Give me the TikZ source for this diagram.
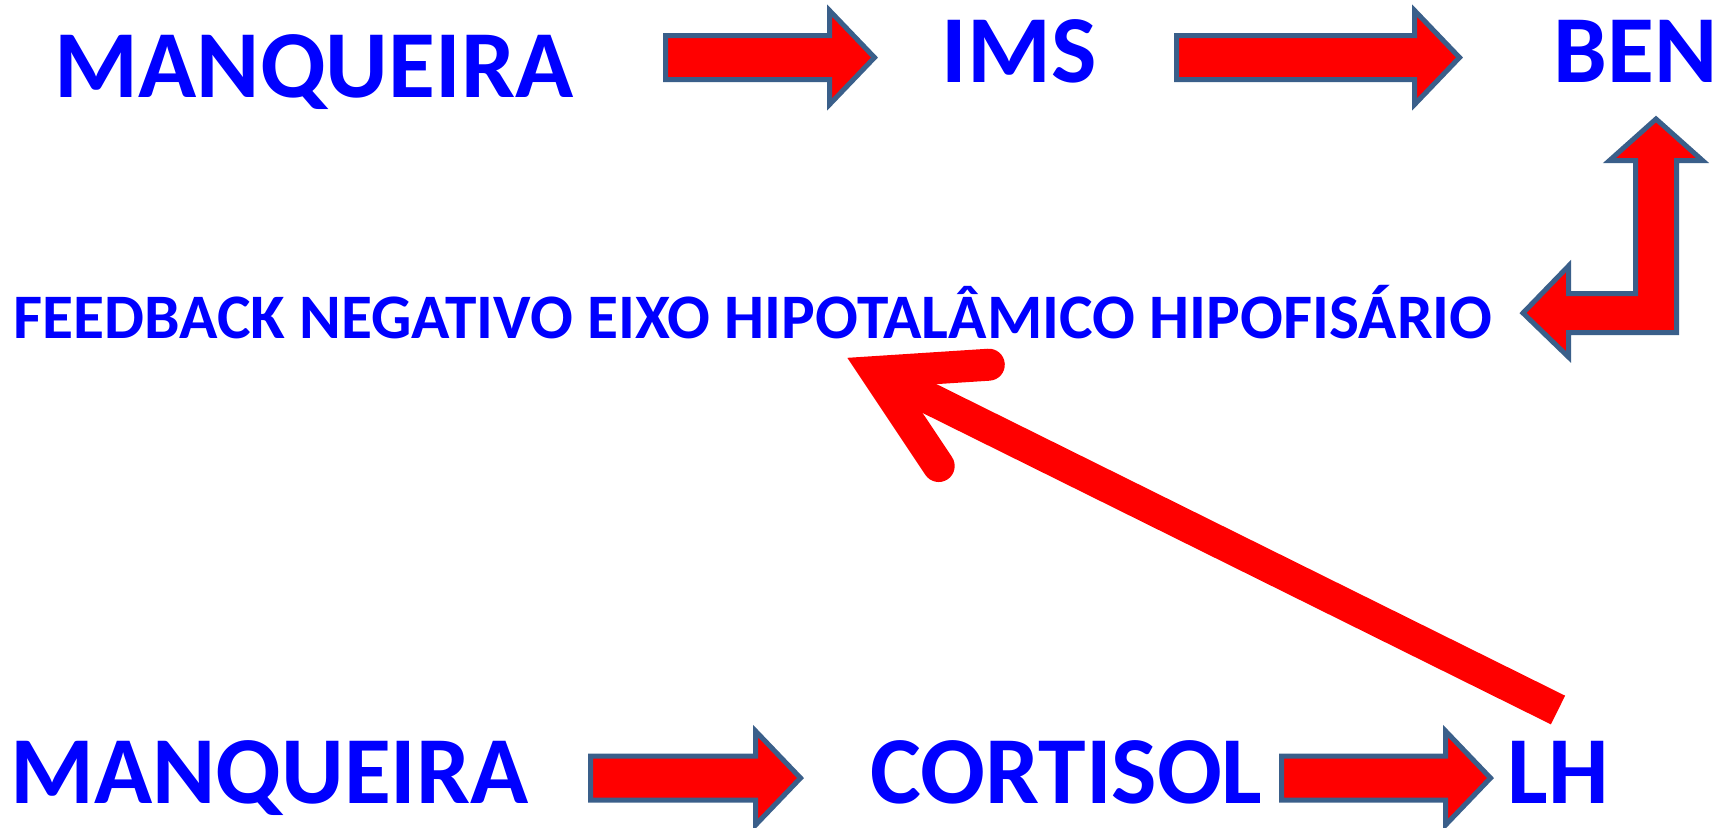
\documentclass[tikz,border=0pt]{standalone}
\usepackage{fontspec}
\setmainfont{Carlito}
\usetikzlibrary{calc}
\definecolor{textblue}{RGB}{0,0,255}
\definecolor{edgeblue}{RGB}{58,95,138}
\definecolor{fillred}{RGB}{255,0,0}
\tikzset{
  blockarrow/.style={fill=fillred, draw=edgeblue, line width=2.5pt, line join=miter},
  fbline/.style={draw=fillred, line width=16pt},
  bigword/.style={font=\fontsize{48}{48}\selectfont\bfseries},
  feedword/.style={font=\fontsize{31.7}{31.7}\selectfont\bfseries}
}
\newcommand{\rightblock}[2]{%
  \draw[blockarrow] ($(#1)+(0,-22)$) -- ($(#2)+(-45,-22)$) -- ($(#2)+(-45,-47)$) -- (#2)
    -- ($(#2)+(-45,47)$) -- ($(#2)+(-45,22)$) -- ($(#1)+(0,22)$) -- cycle;}
\begin{document}
\begin{tikzpicture}[x=0.5pt, y=-0.5pt,
                    every node/.style={text=textblue, inner sep=0pt, anchor=base}]
  \useasboundingbox (0,0) rectangle (1729,827);
  % words
  \node[bigword] (manqueira_top) at (314,97) {MANQUEIRA};
  \node[bigword] (ims) at (1019,82) {IMS};
  \node[bigword] (ben) at (1635.5,82) {BEN};
  \node[feedword] (feedback) at (753,338) {FEEDBACK NEGATIVO EIXO HIPOTALÂMICO HIPOFISÁRIO};
  \node[bigword] (manqueira_bottom) at (269.5,803) {MANQUEIRA};
  \node[bigword] (cortisol) at (1066.5,803) {CORTISOL};
  \node[bigword] (lh) at (1558,803) {LH};
  % block arrows
  \coordinate (a_start) at (665.5,57.5);
  \coordinate (a_tip) at (874.5,57.5);
  \coordinate (b_start) at (1176.5,57.5);
  \coordinate (b_tip) at (1459.5,57.5);
  \coordinate (c_start) at (590.5,778);
  \coordinate (c_tip) at (800.5,778);
  \coordinate (d_start) at (1281.5,778);
  \coordinate (d_tip) at (1490.5,778);
  \rightblock{a_start}{a_tip}
  \rightblock{b_start}{b_tip}
  \rightblock{c_start}{c_tip}
  \rightblock{d_start}{d_tip}
  % bent arrow from BEN back to the feedback line
  \draw[blockarrow] (1656,119) -- (1702.5,160.5) -- (1676.5,160.5) -- (1676.5,332.5)
    -- (1568.5,332.5) -- (1568.5,357) -- (1523,313) -- (1568.5,266) -- (1568.5,293.5)
    -- (1635.5,293.5) -- (1635.5,160.5) -- (1609.5,160.5) -- cycle;
  % LH up to the feedback line
  \coordinate (lhfoot) at (1558,710);
  \coordinate (fbtip) at (876,372);
  \draw[fbline] (lhfoot) -- (fbtip);
  \draw[fbline, line cap=round, line join=miter]
    ($(fbtip)+(112.8,-7.3)$) -- (fbtip) -- ($(fbtip)+(62.7,94)$);
\end{tikzpicture}
\end{document}
